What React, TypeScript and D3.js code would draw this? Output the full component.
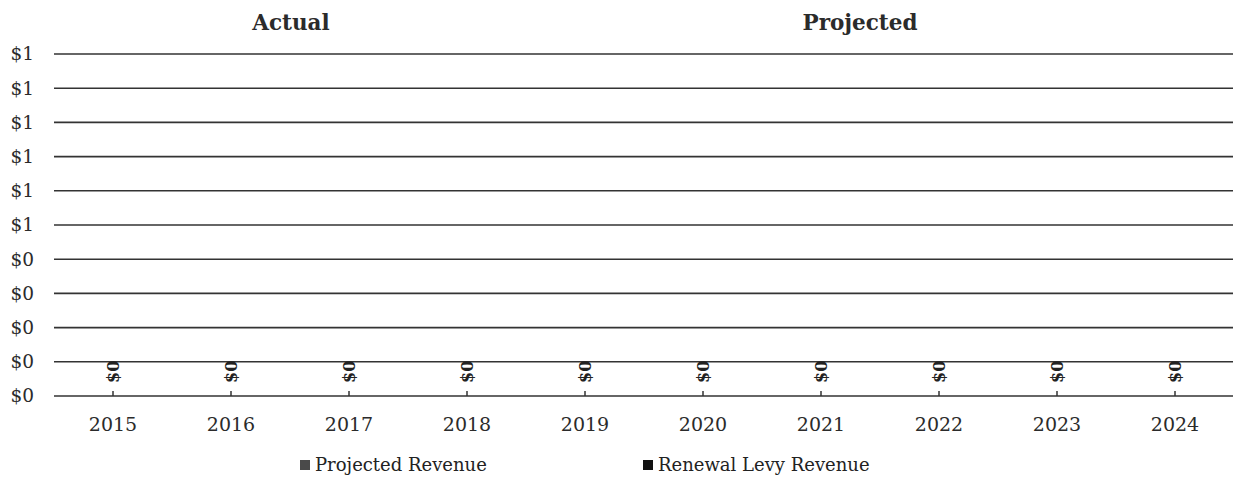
import React from "react";
import * as d3 from "d3";

const years = ["2015", "2016", "2017", "2018", "2019", "2020", "2021", "2022", "2023", "2024"];
const projectedRevenue = [0, 0, 0, 0, 0, 0, 0, 0, 0, 0];
const renewalLevyRevenue = [0, 0, 0, 0, 0, 0, 0, 0, 0, 0];
const yTicks = [0, 0.1, 0.2, 0.3, 0.4, 0.5, 0.6, 0.7, 0.8, 0.9, 1.0];
const seriesNames = ["Projected Revenue", "Renewal Levy Revenue"];
const seriesColors = ["#4a4a4a", "#111111"];
const sectionTitles = [
  { text: "Actual", x: 291 },
  { text: "Projected", x: 860 },
];

const W = 1233;
const H = 478;
const left = 54;
const right = 1234;
const top = 54;
const bottom = 396;
const FONT = "'DejaVu Serif', serif";

export default function App() {
  const x = d3.scaleBand<string>().domain(years).range([left, right]).paddingInner(0.33).paddingOuter(0.165);
  const y = d3.scaleLinear().domain([0, 1]).range([bottom, top]);
  const fmt = (v: number) => "$" + d3.format(".0f")(v);

  const rows = years.map((yr, i) => ({ yr, p: projectedRevenue[i], r: renewalLevyRevenue[i] }));
  const stack = d3.stack<any>().keys(["p", "r"])(rows);

  return (
    <svg width={W} height={H} style={{ position: "absolute", left: 0, top: 0, background: "#fff" }}>
      <rect x={0} y={0} width={W} height={H} fill="#fff" />
      {sectionTitles.map((t) => (
        <text key={t.text} x={t.x} y={30} textAnchor="middle" fontFamily={FONT} fontWeight="bold" fontSize={21.5} fill="#2b2b2b">
          {t.text}
        </text>
      ))}
      {yTicks.map((v) => (
        <g key={v}>
          <line x1={left} x2={W} y1={y(v)} y2={y(v)} stroke="#333" strokeWidth={1.6} />
          <text x={34} y={y(v)} dy="0.35em" textAnchor="end" fontFamily={FONT} fontSize={18.5} fill="#2b2b2b">
            {fmt(v)}
          </text>
        </g>
      ))}
      {stack.map((s, si) => (
        <g key={si} fill={seriesColors[si]}>
          {s.map((d, i) => (
            <rect key={i} x={x(years[i])} width={x.bandwidth()} y={y(d[1])} height={y(d[0]) - y(d[1])} />
          ))}
        </g>
      ))}
      {years.map((yr, i) => {
        const cx = (x(yr) as number) + x.bandwidth() / 2;
        const total = projectedRevenue[i] + renewalLevyRevenue[i];
        return (
          <g key={yr}>
            <line x1={cx} x2={cx} y1={bottom} y2={bottom - 5} stroke="#333" strokeWidth={1.5} />
            <text
              transform={`translate(${cx + 6},${y(total) - 13}) rotate(-90)`}
              fontFamily={FONT}
              fontWeight="bold"
              fontSize={16}
              fill="#222"
            >
              {fmt(total)}
            </text>
            <text x={cx} y={431} textAnchor="middle" fontFamily={FONT} fontSize={19} fill="#2b2b2b">
              {yr}
            </text>
          </g>
        );
      })}
      {seriesNames.map((n, i) => {
        const lx = [300, 643][i];
        return (
          <g key={n}>
            <rect x={lx} y={460} width={10} height={10} fill={seriesColors[i]} />
            <text x={lx + 15} y={471} fontFamily={FONT} fontSize={18} fill="#222">
              {n}
            </text>
          </g>
        );
      })}
    </svg>
  );
}
